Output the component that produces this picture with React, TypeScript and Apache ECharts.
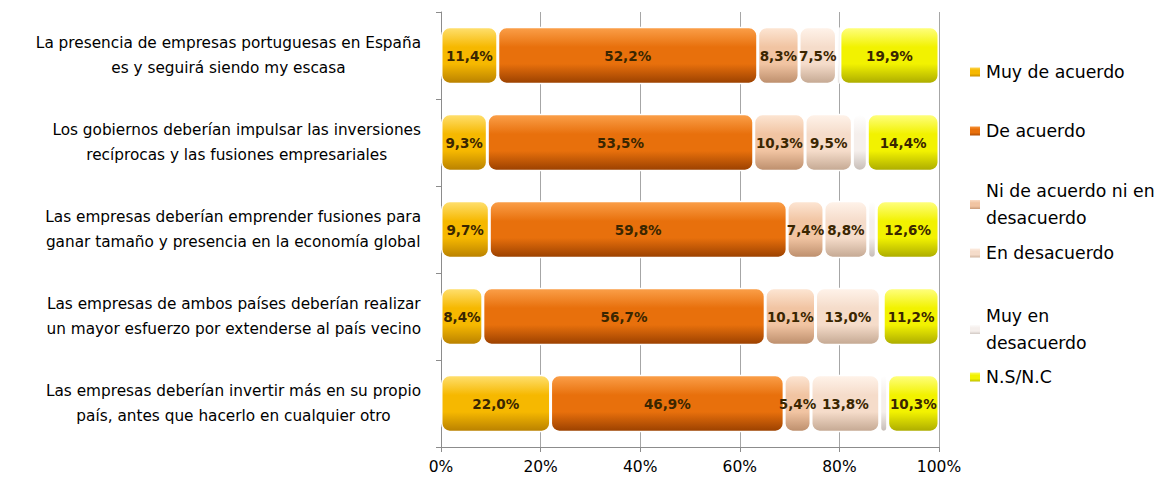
import React, { useEffect, useRef } from "react";
import * as echarts from "echarts";

const categories = [
  "La presencia de empresas portuguesas en España\nes y seguirá siendo my escasa",
  "Los gobiernos deberían impulsar las inversiones\nrecíprocas y las fusiones empresariales",
  "Las empresas deberían emprender fusiones para\nganar tamaño y presencia en la economía global",
  "Las empresas de ambos países deberían realizar\nun mayor esfuerzo por extenderse al país vecino",
  "Las empresas deberían invertir más en su propio\npaís, antes que hacerlo en cualquier otro",
];

const muyDeAcuerdo = [11.4, 9.3, 9.7, 8.4, 22.0];
const deAcuerdo = [52.2, 53.5, 59.8, 56.7, 46.9];
const niNi = [8.3, 10.3, 7.4, 10.1, 5.4];
const enDesacuerdo = [7.5, 9.5, 8.8, 13.0, 13.8];
const muyEnDesacuerdo = [0.7, 3.0, 1.7, 0.6, 1.6];
const nsnc = [19.9, 14.4, 12.6, 11.2, 10.3];

const xTicks = [0, 20, 40, 60, 80, 100];

const FONT = "'DejaVu Sans', 'Open Sans', sans-serif";

const grad = (top: string, mid: string, bottom: string) =>
  new echarts.graphic.LinearGradient(0, 0, 0, 1, [
    { offset: 0, color: top },
    { offset: 0.35, color: mid },
    { offset: 0.65, color: mid },
    { offset: 1, color: bottom },
  ]);

const seriesDefs = [
  { name: "Muy de acuerdo", data: muyDeAcuerdo, c: ["#FFE070", "#F6B800", "#B88000"], label: true },
  { name: "De acuerdo", data: deAcuerdo, c: ["#FBA04A", "#E8700C", "#9A4000"], label: true },
  { name: "Ni de acuerdo ni en desacuerdo", data: niNi, c: ["#FDE6D4", "#F1C4A2", "#BC8E6C"], label: true },
  { name: "En desacuerdo", data: enDesacuerdo, c: ["#FFF3EA", "#F5DCCA", "#C4A892"], label: true },
  { name: "Muy en desacuerdo", data: muyEnDesacuerdo, c: ["#FFFFFF", "#F5EFEC", "#C6BCB6"], label: false },
  { name: "N.S/N.C", data: nsnc, c: ["#FFFF80", "#F2F200", "#ABAB00"], label: true },
];

const legendPos: { name: string; top: number; multi?: string }[] = [
  { name: "Muy de acuerdo", top: 62 },
  { name: "De acuerdo", top: 121 },
  { name: "Ni de acuerdo ni en desacuerdo", top: 164, multi: "Ni de acuerdo ni en\ndesacuerdo" },
  { name: "En desacuerdo", top: 243 },
  { name: "Muy en desacuerdo", top: 289, multi: "Muy en\ndesacuerdo" },
  { name: "N.S/N.C", top: 367 },
];

export default function App() {
  const ref = useRef<HTMLDivElement>(null);
  useEffect(() => {
    if (!ref.current) return;
    const chart = echarts.init(ref.current, undefined, { renderer: "svg" });
    chart.setOption({
      animation: false,
      backgroundColor: "#ffffff",
      textStyle: { fontFamily: FONT },
      grid: { left: 441, right: 222, top: 12, bottom: 36, containLabel: false },
      legend: legendPos.map((l) => ({
        data: [l.name],
        left: 968,
        top: l.top,
        orient: "vertical",
        padding: 0,
        itemWidth: 12,
        itemHeight: 11,
        itemGap: 0,
        icon: "rect",
        selectedMode: false,
        formatter: () => (l.multi ? l.multi : l.name),
        textStyle: {
          fontFamily: FONT,
          fontSize: 17.3,
          color: "#000",
          lineHeight: l.multi ? 27 : 20,
          padding: l.multi ? [27, 0, 0, 0] : 0,
        },
      })),
      xAxis: {
        type: "value",
        min: xTicks[0],
        max: xTicks[xTicks.length - 1],
        interval: 20,
        axisLine: { show: true, lineStyle: { color: "#8c8c8c", width: 1 } },
        axisTick: { show: true, length: 5, lineStyle: { color: "#8c8c8c" } },
        splitLine: { show: true, lineStyle: { color: "#a6a6a6", width: 1 } },
        axisLabel: {
          formatter: "{value}%",
          fontFamily: FONT,
          fontSize: 15.5,
          color: "#000",
          margin: 12,
        },
      },
      yAxis: {
        type: "category",
        data: categories,
        inverse: true,
        axisLine: { show: true, lineStyle: { color: "#8c8c8c", width: 1 } },
        axisTick: { show: true, length: 5, lineStyle: { color: "#8c8c8c" } },
        axisLabel: {
          margin: 20,
          align: "right",
          formatter: (v: string) =>
            v
              .split("\n")
              .map((s) => "{a|" + s + "}")
              .join("\n"),
          rich: {
            a: {
              align: "center",
              fontFamily: FONT,
              fontSize: 15.3,
              color: "#000",
              lineHeight: 25,
            },
          },
        },
      },
      series: seriesDefs.map((s) => ({
        name: s.name,
        type: "bar",
        stack: "total",
        barWidth: "66%",
        data: s.data,
        itemStyle: {
          color: grad(s.c[0], s.c[1], s.c[2]),
          borderColor: "#ffffff",
          borderWidth: 1.5,
          borderRadius: 8,
        },
        label: {
          show: s.label,
          position: "inside",
          fontFamily: FONT,
          fontWeight: "bold",
          fontSize: 13.5,
          color: "#3a2600",
          formatter: (p: any) => p.value.toFixed(1).replace(".", ",") + "%",
        },
      })),
    });
    return () => chart.dispose();
  }, []);
  return (
    <div
      ref={ref}
      style={{ position: "fixed", left: 0, top: 0, width: 1161, height: 483 }}
    />
  );
}
